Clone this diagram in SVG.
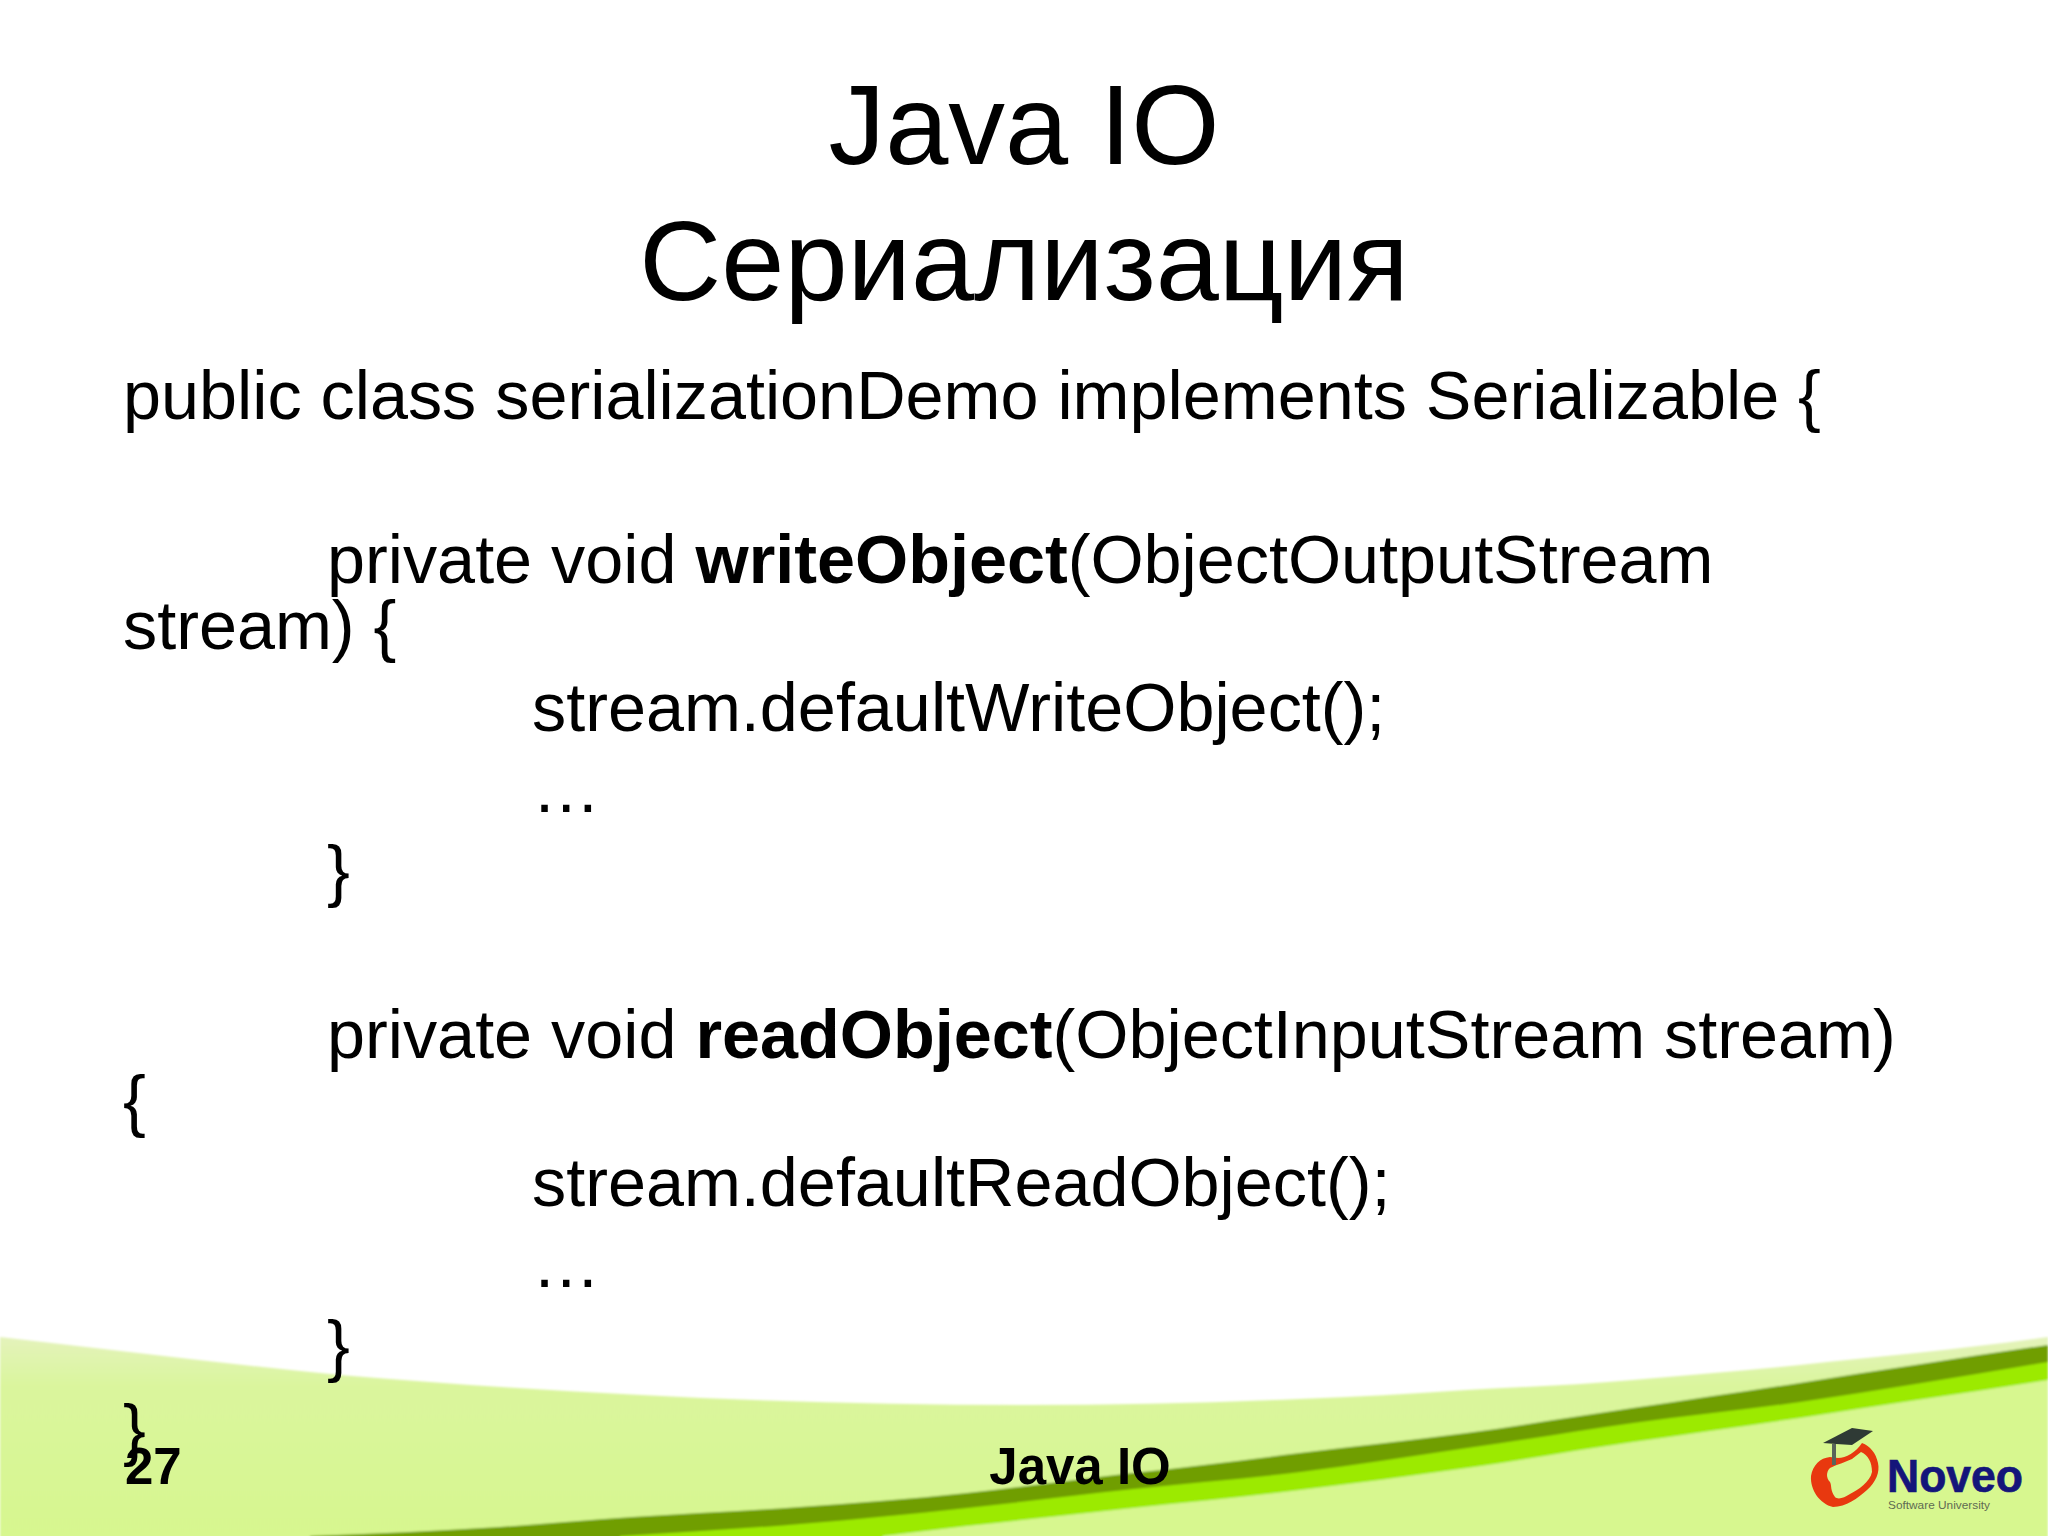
<svg xmlns="http://www.w3.org/2000/svg" width="2048" height="1536" viewBox="0 0 2048 1536">
<style>
text{font-family:"Liberation Sans",Arial,sans-serif;fill:#000}
.t{font-size:113.5px}
.b{font-size:68.35px}
.f{font-size:51px;font-weight:bold}
.k{font-weight:bold}
.base{fill:#d7f78f}
</style>
<defs>
<linearGradient id="g" gradientUnits="userSpaceOnUse" x1="0" y1="1337" x2="0" y2="1536"><stop offset="0" stop-color="#e4f3bb"/><stop offset="0.25" stop-color="#daf59d"/><stop offset="1" stop-color="#d7f78f"/></linearGradient>
<filter id="s" x="-5%" y="-5%" width="110%" height="110%"><feGaussianBlur stdDeviation="0.9"/></filter>
</defs>
<rect width="2048" height="1536" fill="#fff"/>
<g id="wave" filter="url(#s)">
<path d="M0 1337C113 1350 227 1364 340 1375C568 1394 796 1405 1024 1405C1116 1405 1208 1403 1300 1399C1356 1397 1411 1394 1467 1390C1522 1387 1578 1385 1633 1380C1689 1375 1744 1371 1800 1365C1883 1356 1965 1349 2048 1337V1560H0Z" fill="url(#g)"/>
<path d="M310 1536C373 1534 437 1531 500 1527C544 1524 589 1520 633 1517C689 1513 744 1511 800 1507C856 1503 911 1499 967 1493C1022 1487.500 1078 1479 1133 1473C1189 1467 1244 1460 1300 1453C1356 1446 1411 1440.500 1467 1433C1522 1425.500 1578 1416 1633 1408C1689 1400 1744 1391.500 1800 1383C1883 1370 1965 1357 2048 1345V1560H310Z" fill="#6f9e00"/>
<path d="M620 1536C680 1532.400 740 1529 800 1524C856 1519.500 911 1514 967 1508C1022 1502 1078 1495 1133 1489C1189 1483 1244 1479 1300 1472C1356 1465 1411 1456.400 1467 1448C1522 1440 1578 1431 1633 1423C1689 1415 1744 1410 1800 1402C1883 1390 1965 1376 2048 1362V1560H620Z" fill="#9cea00"/>
<path class="base" d="M883 1536C911 1533 939 1529 967 1526C1022 1520 1078 1514 1133 1508C1189 1502 1244 1497 1300 1490C1356 1483 1411 1476 1467 1468C1522 1460 1578 1450 1633 1442C1689 1434 1744 1426 1800 1418C1883 1405 1965 1393 2048 1380V1560H883Z"/>
</g>
<g id="logo">
<path d="M1830 1457C1820 1458 1813 1465 1811 1476C1810 1490 1820 1504 1833 1507C1846 1507 1858 1498 1867 1490C1876 1482 1880 1472 1878 1463C1876 1453 1870 1446 1862 1443L1861 1452C1868 1455 1872 1462 1872 1472C1870 1482 1858 1490 1850 1494C1844 1498 1838 1500 1835 1497C1830 1490 1832 1486 1830 1482C1826 1478 1826 1472 1830 1468C1838 1464 1846 1462 1852 1459L1861 1452L1862 1443C1856 1452 1846 1458 1838 1458Z" fill="#e8380f"/>
<path d="M1823 1443L1852 1428L1873 1431L1852 1445L1836 1444Z" fill="#2f3a35"/>
<rect x="1832" y="1444" width="4" height="21" fill="#59645a"/>
<text x="1887" y="1492" style="font-size:47px;font-weight:bold;fill:#14157a;stroke:#14157a;stroke-width:.7" textLength="136" lengthAdjust="spacingAndGlyphs">Noveo</text>
<text x="1888" y="1509" style="font-size:11px;fill:#5f6b52" textLength="102" lengthAdjust="spacingAndGlyphs">Software University</text>
</g>
<g id="title">
<text class="t" x="1024" y="164" text-anchor="middle">Java IO</text>
<text class="t" x="1024" y="300" text-anchor="middle">Сериализация</text>
</g>
<g id="code">
<text class="b" x="123" y="419">public class serializationDemo implements Serializable {</text>
<text class="b" x="327" y="583">private void <tspan class="k">writeObject</tspan>(ObjectOutputStream</text>
<text class="b" x="123" y="649">stream) {</text>
<text class="b" x="532" y="731">stream.defaultWriteObject();</text>
<text class="b" x="532" y="812">…</text>
<text class="b" x="327" y="894">}</text>
<text class="b" x="327" y="1058">private void <tspan class="k">readObject</tspan>(ObjectInputStream stream)</text>
<text class="b" x="123" y="1124">{</text>
<text class="b" x="532" y="1206">stream.defaultReadObject();</text>
<text class="b" x="532" y="1287">…</text>
<text class="b" x="327" y="1369">}</text>
<text class="b" x="123" y="1453">}</text>
</g>
<g id="footer">
<text class="f" x="125" y="1484">27</text>
<text class="f" x="1080" y="1484" text-anchor="middle">Java IO</text>
</g>
</svg>
